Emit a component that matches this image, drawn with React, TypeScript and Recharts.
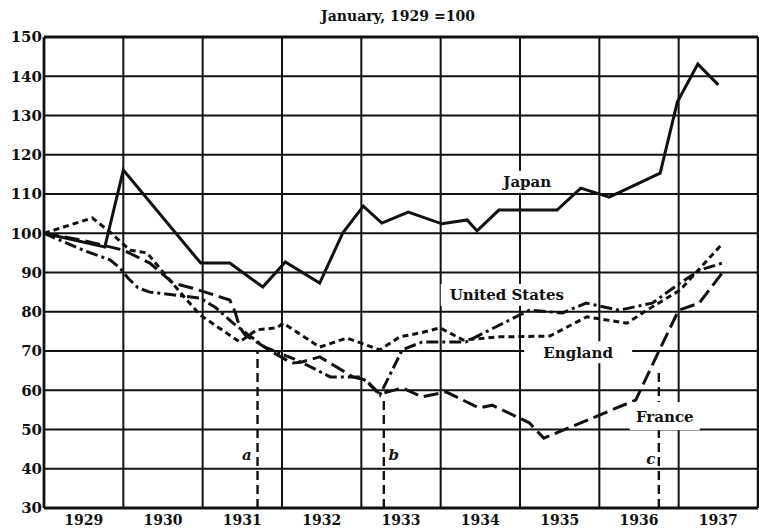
import React from 'react';
import {
  CartesianGrid,
  Line,
  LineChart,
  ReferenceDot,
  ReferenceLine,
  XAxis,
  YAxis,
} from 'recharts';

// x values are months counted from January 1929
const title = 'January, 1929 =100';
const yearLabels = ['1929', '1930', '1931', '1932', '1933', '1934', '1935', '1936', '1937'];
const yTicks = [30, 40, 50, 60, 70, 80, 90, 100, 110, 120, 130, 140, 150];

const japanMonths = [0, 9.2, 12, 23.7, 28.1, 33.1, 36.5, 41.7, 45.2, 48.3, 51.1, 55.1, 60.2, 64, 65.5, 68.8, 77.6, 81.2, 85.5, 93.2, 95.8, 98.9, 102];
const japanValues = [100, 96.5, 116.1, 92.4, 92.4, 86.3, 92.7, 87.3, 100.1, 106.9, 102.6, 105.4, 102.4, 103.4, 100.6, 105.9, 105.9, 111.5, 109.2, 115.3, 133.4, 143.1, 137.8];

const usMonths = [0, 5.9, 10, 11.5, 12.7, 14.2, 16, 23.6, 26, 28.6, 31, 33.4, 37.5, 39.8, 43.3, 47.8, 48.9, 50.8, 54.2, 57.2, 63.8, 73.4, 78.4, 82, 87, 92, 96.2, 99.2, 102.6];
const usValues = [100, 95.7, 93.2, 91.1, 88.6, 86.1, 85, 83.5, 81, 77.1, 74, 71, 68.2, 66.4, 63.4, 63.4, 62.1, 58.8, 70.3, 72.3, 72.3, 80.4, 79.7, 82.2, 80.4, 82.2, 87.3, 90.6, 92.4];

const englandMonths = [0, 7.3, 10, 13, 15.6, 18, 21.6, 23.6, 29.6, 32.2, 35.2, 36.2, 41.7, 45.8, 50.8, 53.8, 56.9, 59.9, 63.4, 69, 76.5, 82.1, 88.2, 91.2, 96.2, 102.7];
const englandValues = [100, 103.9, 100.3, 95.7, 95, 90.1, 83, 79.2, 72.3, 75.4, 75.9, 77.1, 71, 73.3, 70.3, 73.6, 74.6, 75.9, 72.8, 73.6, 73.8, 78.7, 77.1, 80.4, 85.5, 97.5];

const franceMonths = [0, 5.9, 12, 16, 19.5, 22.5, 26.6, 28.1, 28.9, 29.6, 30.4, 34.6, 37.5, 39, 41.7, 44.3, 46.7, 48.7, 50.8, 54.2, 57.2, 60.8, 65.8, 67.8, 73.4, 75.6, 89.5, 92.6, 96, 99.1, 102.6];
const franceValues = [100, 98.2, 95.7, 92.4, 87.3, 86, 83.8, 83, 80, 76.1, 74.1, 69.7, 66.9, 67.2, 68.5, 65.9, 63.4, 62.6, 59, 60.6, 58.3, 59.6, 55.5, 56.2, 51.7, 47.8, 57.5, 68.5, 80.4, 82.2, 89.9];

// devaluation markers a, b, c
const markLetters = ['a', 'b', 'c'];
const markMonths = [32.3, 51.4, 93];
const markTops = [70, 58.5, 65];
const letterMonths = [30.7, 52.9, 91.8];
const letterValues = [43.5, 43.5, 42.7];

const seriesNames = ['Japan', 'United States', 'England', 'France'];
const labelMonths = [73.1, 70, 80.8, 93.9];
const labelValues = [113.1, 84.3, 69.7, 53.4];

const toData = (months: number[], values: number[]) =>
  months.map((m, i) => ({ m, v: values[i] }));

const FONT = "'DejaVu Serif', serif";
const INK = '#111';

const yearMid = yearLabels.map((_, i) => i * 12 + 6);
const gridMonths = yearLabels.slice(1).map((_, i) => (i + 1) * 12);

const labelSizes = [
  [64, 22],
  [132, 22],
  [108, 22],
  [70, 28],
];

const labelBox = (text: string, w: number, h: number) => (props: any) => {
  const { cx, cy } = props;
  return (
    <g>
      <rect x={cx - w / 2} y={cy - h / 2} width={w} height={h} fill="#fff" />
      <text
        x={cx}
        y={cy}
        dy="0.36em"
        textAnchor="middle"
        fontFamily={FONT}
        fontWeight="bold"
        fontSize={15}
        fill={INK}
      >
        {text}
      </text>
    </g>
  );
};

const letterMark = (text: string) => (props: any) => {
  const { cx, cy } = props;
  return (
    <text
      x={cx}
      y={cy}
      dy="0.36em"
      textAnchor="middle"
      fontFamily={FONT}
      fontStyle="italic"
      fontWeight="bold"
      fontSize={15}
      fill={INK}
    >
      {text}
    </text>
  );
};

const App = () => {
  return (
    <div style={{ position: 'absolute', left: 0, top: 0, width: 759, height: 529, background: '#fff' }}>
      <div
        style={{
          position: 'absolute',
          left: 398,
          top: 8,
          transform: 'translateX(-50%)',
          fontFamily: FONT,
          fontWeight: 'bold',
          fontSize: 14,
          color: INK,
          whiteSpace: 'nowrap',
        }}
      >
        {title}
      </div>
      <LineChart
        width={759}
        height={529}
        margin={{ top: 37, right: 1, bottom: 0, left: 4 }}
      >
        <CartesianGrid vertical={false} stroke={INK} strokeWidth={2} strokeOpacity={1} />
        <XAxis
          type="number"
          dataKey="m"
          domain={[0, 108]}
          ticks={yearMid}
          tickFormatter={(v: number) => yearLabels[(v - 6) / 12]}
          height={21}
          tickLine={false}
          tickSize={0}
          tickMargin={7}
          axisLine={{ stroke: INK, strokeWidth: 2.8 }}
          tick={{ fill: INK, fontFamily: FONT, fontWeight: 'bold', fontSize: 14 }}
          allowDataOverflow
        />
        <YAxis
          type="number"
          domain={[30, 150]}
          ticks={yTicks}
          width={40}
          tickLine={false}
          tickSize={0}
          tickMargin={2}
          axisLine={{ stroke: INK, strokeWidth: 2.8 }}
          tick={{ fill: INK, fontFamily: FONT, fontWeight: 'bold', fontSize: 15 }}
          interval={0}
        />
        {gridMonths.map((m) => (
          <ReferenceLine key={m} x={m} stroke={INK} strokeWidth={2} />
        ))}
        <ReferenceLine x={108} stroke={INK} strokeWidth={2.5} />
        <ReferenceLine y={150} stroke={INK} strokeWidth={2.8} />
        {markMonths.map((m, i) => (
          <ReferenceLine
            key={markLetters[i]}
            segment={[
              { x: m, y: 30 },
              { x: m, y: markTops[i] },
            ]}
            stroke={INK}
            strokeWidth={2.4}
            strokeDasharray="9 5"
          />
        ))}
        {seriesNames.map((name, i) => (
          <ReferenceDot
            key={name}
            x={labelMonths[i]}
            y={labelValues[i]}
            r={0}
            ifOverflow="visible"
            shape={labelBox(name, labelSizes[i][0], labelSizes[i][1])}
          />
        ))}
        {markLetters.map((t, i) => (
          <ReferenceDot
            key={'l' + t}
            x={letterMonths[i]}
            y={letterValues[i]}
            r={0}
            ifOverflow="visible"
            shape={letterMark(t)}
          />
        ))}
        <Line
          data={toData(japanMonths, japanValues)}
          dataKey="v"
          type="linear"
          dot={false}
          stroke={INK}
          strokeWidth={3}
          isAnimationActive={false}
        />
        <Line
          data={toData(usMonths, usValues)}
          dataKey="v"
          type="linear"
          dot={false}
          stroke={INK}
          strokeWidth={3}
          strokeDasharray="12 4 3 4"
          isAnimationActive={false}
        />
        <Line
          data={toData(englandMonths, englandValues)}
          dataKey="v"
          type="linear"
          dot={false}
          stroke={INK}
          strokeWidth={3}
          strokeDasharray="6 4"
          isAnimationActive={false}
        />
        <Line
          data={toData(franceMonths, franceValues)}
          dataKey="v"
          type="linear"
          dot={false}
          stroke={INK}
          strokeWidth={3}
          strokeDasharray="15 6"
          isAnimationActive={false}
        />
      </LineChart>
    </div>
  );
};

export default App;
